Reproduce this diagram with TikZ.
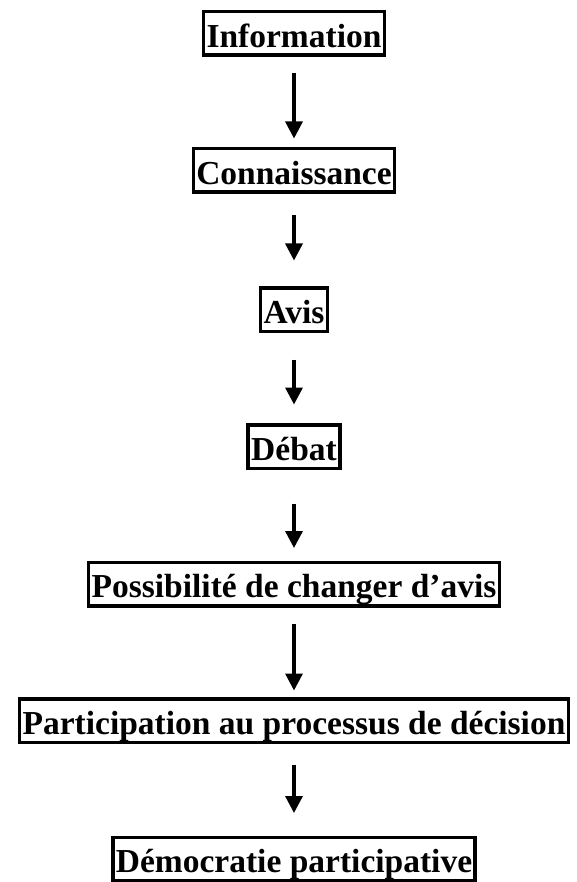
\documentclass[tikz,border=0pt]{standalone}
\usepackage{fontspec}
\setmainfont{Liberation Serif}
\usetikzlibrary{arrows.meta}

\begin{document}
\begin{tikzpicture}[
    stage/.style={rectangle,draw=black,line width=3.5pt,inner xsep=3pt,inner ysep=0pt,
        text height=35.5pt,text depth=8pt,font=\fontsize{33.5}{40}\selectfont\bfseries},
    arrow/.style={-{Triangle[width=17pt,length=17pt]}, line width=3.3pt}
]
\useasboundingbox (0pt,0pt) rectangle (576pt,-882pt);

\node[stage] (info) at (294pt,-33.5pt) {Information};
\node[stage] (conn) at (294pt,-170.5pt) {Connaissance};
\node[stage] (avis) at (294pt,-309.5pt) {Avis};
\node[stage] (debat) at (294pt,-446.5pt) {Débat};
\node[stage] (chgt) at (294pt,-584pt) {Possibilité de changer d’avis};
\node[stage] (part) at (294pt,-720.5pt) {Participation au processus de décision};
\node[stage] (demo) at (294pt,-859pt) {Démocratie participative};

\draw[arrow, shorten <=16.5pt, shorten >=8.5pt] (info) -- (conn);
\draw[arrow, shorten <=21.5pt, shorten >=25.5pt] (conn) -- (avis);
\draw[arrow, shorten <=26.5pt, shorten >=18.5pt] (avis) -- (debat);
\draw[arrow, shorten <=33.5pt, shorten >=12.5pt] (debat) -- (chgt);
\draw[arrow, shorten <=16.5pt, shorten >=6.5pt] (chgt) -- (part);
\draw[arrow, shorten <=20.5pt, shorten >=22.5pt] (part) -- (demo);

\end{tikzpicture}
\end{document}
